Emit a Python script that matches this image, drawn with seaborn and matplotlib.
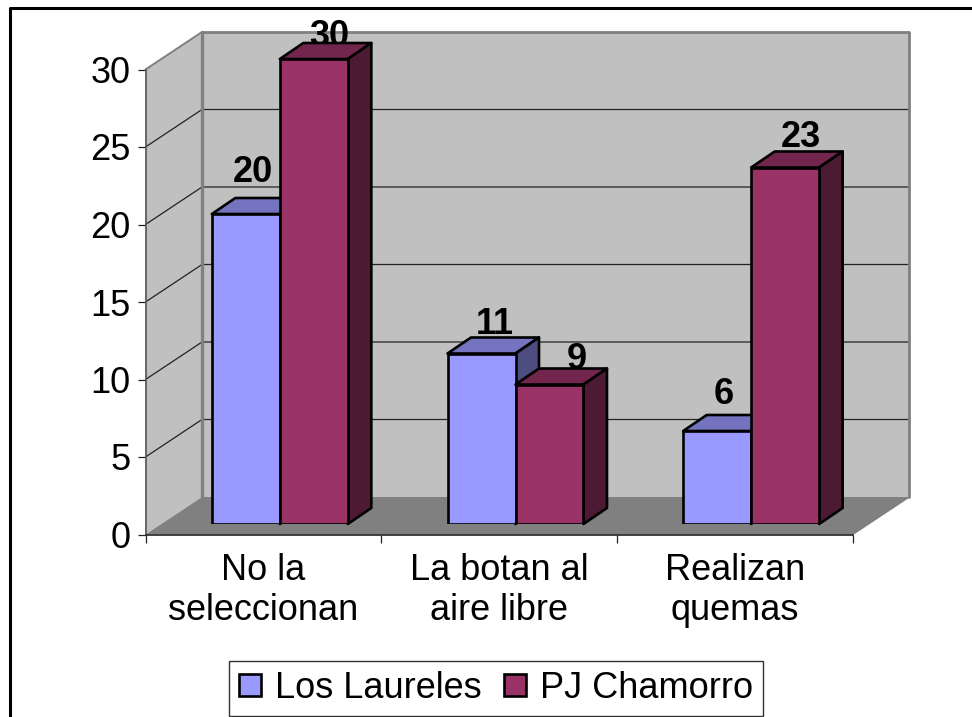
import pandas as pd
import matplotlib.pyplot as plt
import seaborn as sns
from matplotlib.lines import Line2D
from matplotlib.patches import Polygon

W, H = 972, 717
categorias = ["No la\nseleccionan", "La botan al\naire libre", "Realizan\nquemas"]
laureles = [20, 11, 6]
chamorro = [30, 9, 23]
series = ["Los Laureles", "PJ Chamorro"]
colores = ["#9999FF", "#993366"]
tapas = ["#7373BF", "#73264D"]
lados = ["#4D4D80", "#4D1A33"]
# desplazamiento de cada etiqueta respecto a su barra, en pixeles
off_x = [[7, 13, 7], [15, 27, 16]]
off_y = [[41, 29, 36], [23, 25, 30]]

df = pd.DataFrame({
    "cat": categorias * 2,
    "n": laureles + chamorro,
    "serie": [series[0]] * 3 + [series[1]] * 3,
})

sns.set_style("white")
plt.rcParams["font.family"] = ["Liberation Sans", "DejaVu Sans"]
plt.rcParams["text.color"] = "black"
plt.rcParams["xtick.labelcolor"] = "black"
plt.rcParams["ytick.labelcolor"] = "black"
FS = 26

fig = plt.figure(figsize=(W / 100, H / 100), dpi=100)

# plano frontal: ejes y ticks
ax = fig.add_axes([145.5 / W, 1 - 534.5 / H, 707 / W, 465 / H])
ax.set_xlim(-0.5, 2.5)
ax.set_ylim(0, 30)
ax.patch.set_visible(False)

px = 3 / 707
py = 30 / 465
fx, fy = 56.5 * px, 37.5 * py
x0, x1 = -0.5, 2.5
ax.add_patch(Polygon([(x0, 0), (x0 + fx, fy), (x0 + fx, 30 + fy), (x0, 30)], fc="#C0C0C0", ec="none", clip_on=False, zorder=1))
ax.add_patch(Polygon([(x0 + fx, fy), (x1 + fx, fy), (x1 + fx, 30 + fy), (x0 + fx, 30 + fy)], fc="#C0C0C0", ec="none", clip_on=False, zorder=1))
ax.add_patch(Polygon([(x0, 0), (x1, 0), (x1 + fx, fy), (x0 + fx, fy)], fc="#808080", ec="none", clip_on=False, zorder=1))

for v in range(5, 30, 5):
    ax.plot([x0, x0 + fx, x1 + fx], [v, v + fy, v + fy], color="#222222", lw=0.9, clip_on=False, zorder=2)
ax.plot([x0, x0 + fx], [30, 30 + fy], color="#808080", lw=1.4, clip_on=False, zorder=3)
ax.plot([x0 + fx, x1 + fx, x1 + fx], [30 + fy, 30 + fy, fy], color="#808080", lw=2.0, clip_on=False, zorder=3)
ax.plot([x1 + fx, x1], [fy, 0], color="#808080", lw=1.2, clip_on=False, zorder=3)
ax.plot([x0 + fx, x0 + fx], [fy, 30 + fy], color="#808080", lw=2.4, clip_on=False, zorder=3)

ax.set_yticks(range(0, 31, 5))
ax.set_xticks([-0.5, 0.5, 1.5, 2.5])
ax.set_xticklabels([])
ax.set_xticks([0, 1, 2], categorias, minor=True)
ax.tick_params(axis="y", labelsize=FS, length=6, width=0.9, color="#222222", pad=5, left=True)
ax.tick_params(axis="x", which="major", length=6, width=0.9, color="#222222", bottom=True)
ax.tick_params(axis="x", which="minor", length=0, labelsize=FS, pad=13)
for lab in ax.get_xticklabels(minor=True):
    lab.set_linespacing(1.22)
for s in ["top", "right"]:
    ax.spines[s].set_visible(False)
ax.spines["left"].set_color("#555555")
ax.spines["bottom"].set_color("#222222")
for s in ["left", "bottom"]:
    ax.spines[s].set_linewidth(1.2)
    ax.spines[s].set_zorder(4)

# plano de las barras, un poco mas atras
ax_b = fig.add_axes([162 / W, 1 - 524 / H, 707 / W, 465 / H])
sns.barplot(data=df, x="cat", y="n", hue="serie", palette=colores, saturation=1, width=0.577, gap=0,
            edgecolor="black", linewidth=1.9, errorbar=None, ax=ax_b)
ax_b.set_xlim(-0.5, 2.5)
ax_b.set_ylim(0, 30)
ax_b.patch.set_visible(False)

bx, by = 23.5 * px, 16 * py
for i, cont in enumerate(ax_b.containers):
    z = 3 + i
    for j, bar in enumerate(cont):
        bar.set_zorder(z + 0.5)
        xa, w, h = bar.get_x(), bar.get_width(), bar.get_height()
        xb = xa + w
        ax_b.add_patch(Polygon([(xa, h), (xb, h), (xb + bx, h + by), (xa + bx, h + by)], fc=tapas[i], ec="black",
                               lw=1.9, joinstyle="round", clip_on=False, zorder=z))
        ax_b.add_patch(Polygon([(xb, 0), (xb + bx, by), (xb + bx, h + by), (xb, h)], fc=lados[i], ec="black",
                               lw=1.9, joinstyle="round", clip_on=False, zorder=z))
        ax_b.annotate(str(int(h)), (xa + w / 2, h), xytext=(off_x[i][j] * 0.72, off_y[i][j] * 0.72),
                      textcoords="offset points", ha="center", va="center", fontsize=FS, fontweight="bold",
                      color="black", annotation_clip=False, zorder=2)

sns.despine(ax=ax_b, left=True, bottom=True)
ax_b.set_xticks([])
ax_b.set_yticks([])
ax_b.set_xlabel("")
ax_b.set_ylabel("")

sns.move_legend(ax_b, loc="center", bbox_to_anchor=(496 / W, 1 - 688.5 / H), bbox_transform=fig.transFigure,
                ncol=2, title=None, frameon=True, fancybox=False, framealpha=1, edgecolor="#333333",
                fontsize=FS, handlelength=0.62, handleheight=0.58, handletextpad=0.38, columnspacing=0.62,
                borderpad=0.27, borderaxespad=0)
ax_b.get_legend().get_frame().set_linewidth(1.0)
for p in ax_b.get_legend().get_patches():
    p.set_edgecolor("black")
    p.set_linewidth(1.9)

# marco de la figura, abierto abajo y a la derecha
fig.add_artist(Line2D([9.5 / W, 9.5 / W, 1], [0, 1 - 8 / H, 1 - 8 / H], color="black", lw=2.2, transform=fig.transFigure))

fig.savefig("out.png", dpi=100)
plt.close()
